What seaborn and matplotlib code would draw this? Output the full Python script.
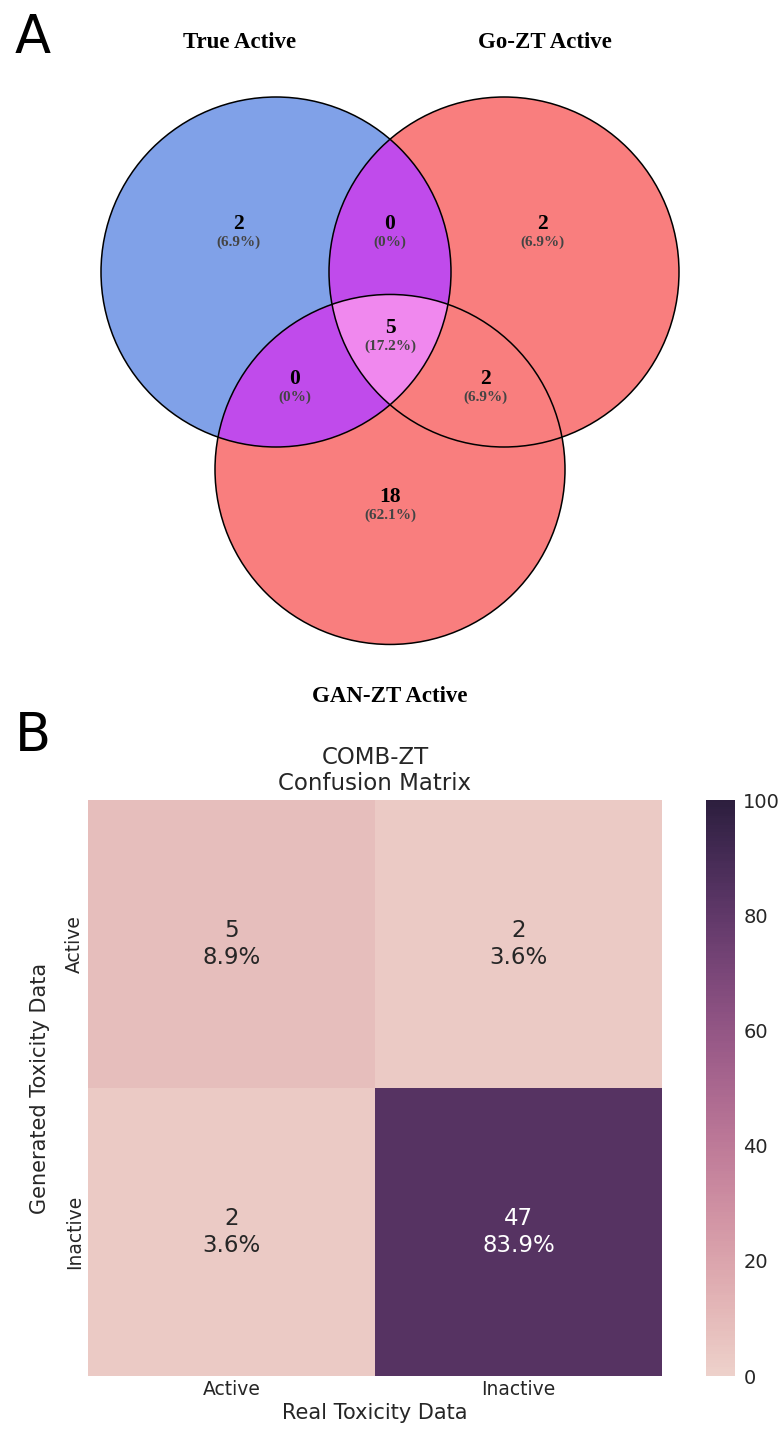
import numpy as np
import matplotlib
matplotlib.use('Agg')
import matplotlib.pyplot as plt
import seaborn as sns
from matplotlib.patches import Circle, Polygon

# Venn data (region keys: left / right / bottom membership)
set_names = ['True Active', 'Go-ZT Active', 'GAN-ZT Active']
region_keys = ['100', '010', '001', '110', '101', '011', '111']
region_counts = [2, 2, 18, 0, 0, 2, 5]

# Confusion matrix data
cm_labels = ['Active', 'Inactive']
cm_counts = [[5, 2], [2, 47]]
cm_title = 'COMB-ZT\nConfusion Matrix'

sns.set_theme(style='white')

W, H = 783, 1429
fig = plt.figure(figsize=(W / 100, H / 100), dpi=100)

# ---------------- Panel A: Venn diagram (pixel coordinates) ----------------
VH = 730
ax_v = fig.add_axes([0, 1 - VH / H, 1, VH / H])
ax_v.set_xlim(0, W)
ax_v.set_ylim(VH, 0)
ax_v.axis('off')

R = 175
side = 228
cx, cy = 390, 272
centers = [(cx - side / 2, cy), (cx + side / 2, cy), (cx, cy + side * np.sqrt(3) / 2)]
blue, red, purple, pink = '#80a1e8', '#f97e7e', '#c04beb', '#f088ee'

def circle(i, **kw):
    return Circle(centers[i], R, transform=ax_v.transData, **kw)

for i, col in zip([0, 1, 2], [blue, red, red]):
    ax_v.add_patch(circle(i, facecolor=col, edgecolor='none', zorder=1))

# pairwise overlaps with the left set are purple
for j in [1, 2]:
    p = circle(j, facecolor=purple, edgecolor='none', zorder=2)
    ax_v.add_patch(p)
    p.set_clip_path(circle(0))

# triple intersection as a polygon from sampled boundary points
t = np.linspace(0, 2 * np.pi, 2000)
pts = []
for i, (x0, y0) in enumerate(centers):
    bx, by = x0 + R * np.cos(t), y0 + R * np.sin(t)
    ok = np.ones_like(bx, dtype=bool)
    for j, (x1, y1) in enumerate(centers):
        if j != i:
            ok &= (bx - x1) ** 2 + (by - y1) ** 2 <= R ** 2 + 1e-6
    pts.append(np.column_stack([bx[ok], by[ok]]))
pts = np.vstack(pts)
gc = pts.mean(axis=0)
pts = pts[np.argsort(np.arctan2(pts[:, 1] - gc[1], pts[:, 0] - gc[0]))]
ax_v.add_patch(Polygon(pts, closed=True, facecolor=pink, edgecolor='none', zorder=3))

for i in range(3):
    ax_v.add_patch(circle(i, facecolor='none', edgecolor='black', lw=1.1, zorder=4))

# region label anchors (layout only)
label_pos = {'100': (238, 233), '010': (542, 233), '001': (390, 506),
             '110': (390, 233), '101': (295, 388), '011': (485, 388),
             '111': (390, 337)}
total = sum(region_counts)
serif = ['Liberation Serif', 'DejaVu Serif']
for key, n in zip(region_keys, region_counts):
    x, y = label_pos[key]
    pct = n / total * 100
    pct_txt = f'({pct:.1f}%)' if n else '(0%)'
    ax_v.text(x, y - 9, str(n), ha='center', va='center', fontsize=15.5,
              fontweight='bold', family=serif, color='black', zorder=5)
    ax_v.text(x, y + 9, pct_txt, ha='center', va='center', fontsize=11,
              fontweight='bold', family=serif, color='#444444', zorder=5)

set_label_pos = [(240, 42), (545, 42), (390, 697)]
for name, (x, y) in zip(set_names, set_label_pos):
    ax_v.text(x, y, name, ha='center', va='center', fontsize=16.5,
              fontweight='bold', family=serif, color='black')

# ---------------- Panel B: confusion matrix heatmap ----------------
counts = np.array(cm_counts)
pcts = counts / counts.sum() * 100
annot = np.array([[f'{c}\n{p:.1f}%' for c, p in zip(rc, rp)] for rc, rp in zip(counts, pcts)])

top, bottom = 800, 1376
ax_h = fig.add_axes([88 / W, 1 - bottom / H, (662 - 88) / W, (bottom - top) / H])
cax = fig.add_axes([706 / W, 1 - bottom / H, 29 / W, (bottom - top) / H])
sns.heatmap(pcts, annot=annot, fmt='', cmap=sns.cubehelix_palette(as_cmap=True),
            vmin=0, vmax=100, ax=ax_h, cbar_ax=cax,
            xticklabels=cm_labels, yticklabels=cm_labels,
            annot_kws={'fontsize': 16.5})
ax_h.set_title(cm_title, fontsize=16.5, color='#262626', pad=7)
ax_h.set_xlabel('Real Toxicity Data', fontsize=15, color='#262626', labelpad=3)
ax_h.set_ylabel('Generated Toxicity Data', fontsize=15, color='#262626', labelpad=11)
ax_h.tick_params(axis='both', labelsize=13.5, labelcolor='#262626', length=0, pad=3)
plt.setp(ax_h.get_yticklabels(), rotation=90, va='center')
cax.set_yticks([0, 20, 40, 60, 80, 100])
cax.tick_params(labelsize=14, labelcolor='#262626', length=0, pad=6)

fig.text(33 / W, 1 - 38 / H, 'A', fontsize=38, ha='center', va='center', color='black')
fig.text(33 / W, 1 - 736 / H, 'B', fontsize=38, ha='center', va='center', color='black')

fig.savefig('out.png', dpi=100)
